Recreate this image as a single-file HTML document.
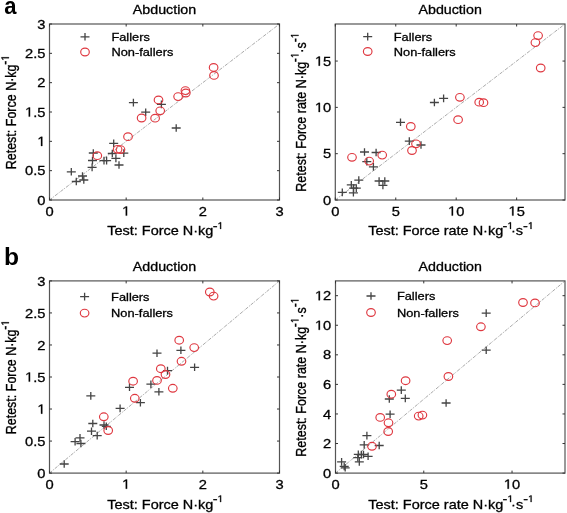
<!DOCTYPE html>
<html><head><meta charset="utf-8"><style>
html,body{margin:0;padding:0;background:#fff;}
svg{display:block;will-change:transform;font-family:"Liberation Sans", sans-serif;}
text{stroke:#000;stroke-width:0.3px;}
</style></head><body>
<svg width="567" height="513" viewBox="0 0 567 513">
<rect width="567" height="513" fill="#fff"/>
<g stroke="#8c8c8c" stroke-width="0.75" stroke-dasharray="3.5 1.2 1 1.2"><line x1="49.5" y1="200" x2="279.5" y2="24"/><line x1="335.3" y1="200" x2="565.0" y2="24"/><line x1="49.5" y1="473.1" x2="279.5" y2="280.9"/><line x1="335.5" y1="473.1" x2="565.0" y2="280.9"/></g>
<g stroke="#444" stroke-width="1.3" fill="none"><path d="M66.80 171.80H75.80M71.30 168.00V175.60"/><path d="M78.00 176.00H87.00M82.50 172.20V179.80"/><path d="M79.30 180.00H88.30M83.80 176.20V183.80"/><path d="M71.80 181.50H80.80M76.30 177.70V185.30"/><path d="M87.60 167.40H96.60M92.10 163.60V171.20"/><path d="M88.00 160.50H97.00M92.50 156.70V164.30"/><path d="M88.80 153.00H97.80M93.30 149.20V156.80"/><path d="M99.50 160.60H108.50M104.00 156.80V164.40"/><path d="M102.10 160.60H111.10M106.60 156.80V164.40"/><path d="M109.20 143.40H118.20M113.70 139.60V147.20"/><path d="M107.80 153.50H116.80M112.30 149.70V157.30"/><path d="M111.40 158.40H120.40M115.90 154.60V162.20"/><path d="M114.50 165.00H123.50M119.00 161.20V168.80"/><path d="M119.30 153.10H128.30M123.80 149.30V156.90"/><path d="M128.90 102.60H137.90M133.40 98.80V106.40"/><path d="M141.20 112.20H150.20M145.70 108.40V116.00"/><path d="M156.90 104.40H165.90M161.40 100.60V108.20"/><path d="M171.70 128.00H180.70M176.20 124.20V131.80"/><path d="M337.80 192.40H346.80M342.30 188.60V196.20"/><path d="M346.80 184.90H355.80M351.30 181.10V188.70"/><path d="M351.80 188.10H360.80M356.30 184.30V191.90"/><path d="M348.90 192.80H357.90M353.40 189.00V196.60"/><path d="M349.10 188.10H358.10M353.60 184.30V191.90"/><path d="M354.30 180.10H363.30M358.80 176.30V183.90"/><path d="M360.00 152.00H369.00M364.50 148.20V155.80"/><path d="M371.60 152.50H380.60M376.10 148.70V156.30"/><path d="M362.30 161.70H371.30M366.80 157.90V165.50"/><path d="M368.90 166.90H377.90M373.40 163.10V170.70"/><path d="M374.60 181.00H383.60M379.10 177.20V184.80"/><path d="M380.30 181.00H389.30M384.80 177.20V184.80"/><path d="M378.40 185.40H387.40M382.90 181.60V189.20"/><path d="M396.00 122.30H405.00M400.50 118.50V126.10"/><path d="M404.80 141.10H413.80M409.30 137.30V144.90"/><path d="M416.50 145.00H425.50M421.00 141.20V148.80"/><path d="M429.90 102.50H438.90M434.40 98.70V106.30"/><path d="M439.10 98.40H448.10M443.60 94.60V102.20"/><path d="M59.70 464.00H68.70M64.20 460.20V467.80"/><path d="M70.60 441.70H79.60M75.10 437.90V445.50"/><path d="M75.50 437.80H84.50M80.00 434.00V441.60"/><path d="M76.40 443.50H85.40M80.90 439.70V447.30"/><path d="M88.30 423.50H97.30M92.80 419.70V427.30"/><path d="M87.00 431.20H96.00M91.50 427.40V435.00"/><path d="M92.70 435.60H101.70M97.20 431.80V439.40"/><path d="M99.50 425.00H108.50M104.00 421.20V428.80"/><path d="M101.80 426.30H110.80M106.30 422.50V430.10"/><path d="M86.30 395.90H95.30M90.80 392.10V399.70"/><path d="M115.60 408.40H124.60M120.10 404.60V412.20"/><path d="M125.00 387.30H134.00M129.50 383.50V391.10"/><path d="M135.90 402.70H144.90M140.40 398.90V406.50"/><path d="M146.40 384.20H155.40M150.90 380.40V388.00"/><path d="M154.40 391.80H163.40M158.90 388.00V395.60"/><path d="M152.50 353.20H161.50M157.00 349.40V357.00"/><path d="M163.00 370.60H172.00M167.50 366.80V374.40"/><path d="M176.40 350.30H185.40M180.90 346.50V354.10"/><path d="M190.10 367.30H199.10M194.60 363.50V371.10"/><path d="M337.10 461.90H346.10M341.60 458.10V465.70"/><path d="M339.70 466.40H348.70M344.20 462.60V470.20"/><path d="M340.70 467.80H349.70M345.20 464.00V471.60"/><path d="M353.80 454.30H362.80M358.30 450.50V458.10"/><path d="M356.90 454.60H365.90M361.40 450.80V458.40"/><path d="M353.30 457.70H362.30M357.80 453.90V461.50"/><path d="M359.00 454.50H368.00M363.50 450.70V458.30"/><path d="M363.60 456.30H372.60M368.10 452.50V460.10"/><path d="M354.80 461.90H363.80M359.30 458.10V465.70"/><path d="M362.40 435.60H371.40M366.90 431.80V439.40"/><path d="M359.70 444.90H368.70M364.20 441.10V448.70"/><path d="M374.70 445.50H383.70M379.20 441.70V449.30"/><path d="M384.80 399.00H393.80M389.30 395.20V402.80"/><path d="M385.60 414.20H394.60M390.10 410.40V418.00"/><path d="M396.80 390.10H405.80M401.30 386.30V393.90"/><path d="M400.80 398.40H409.80M405.30 394.60V402.20"/><path d="M441.60 403.00H450.60M446.10 399.20V406.80"/><path d="M481.70 350.20H490.70M486.20 346.40V354.00"/><path d="M481.70 313.10H490.70M486.20 309.30V316.90"/></g>
<g stroke="#df3840" stroke-width="1.15" fill="none"><ellipse cx="97.30" cy="155.70" rx="4.3" ry="3.85"/><ellipse cx="117.60" cy="149.30" rx="4.3" ry="3.85"/><ellipse cx="120.50" cy="149.60" rx="4.3" ry="3.85"/><ellipse cx="128.00" cy="136.70" rx="4.3" ry="3.85"/><ellipse cx="141.60" cy="118.00" rx="4.3" ry="3.85"/><ellipse cx="155.10" cy="118.20" rx="4.3" ry="3.85"/><ellipse cx="160.20" cy="110.80" rx="4.3" ry="3.85"/><ellipse cx="158.50" cy="99.90" rx="4.3" ry="3.85"/><ellipse cx="178.10" cy="96.60" rx="4.3" ry="3.85"/><ellipse cx="185.40" cy="90.60" rx="4.3" ry="3.85"/><ellipse cx="185.80" cy="93.00" rx="4.3" ry="3.85"/><ellipse cx="213.60" cy="67.40" rx="4.3" ry="3.85"/><ellipse cx="214.00" cy="75.40" rx="4.3" ry="3.85"/><ellipse cx="352.00" cy="157.30" rx="4.3" ry="3.85"/><ellipse cx="369.20" cy="161.10" rx="4.3" ry="3.85"/><ellipse cx="382.20" cy="155.10" rx="4.3" ry="3.85"/><ellipse cx="410.80" cy="126.50" rx="4.3" ry="3.85"/><ellipse cx="416.00" cy="143.80" rx="4.3" ry="3.85"/><ellipse cx="412.00" cy="150.50" rx="4.3" ry="3.85"/><ellipse cx="459.90" cy="97.30" rx="4.3" ry="3.85"/><ellipse cx="458.10" cy="119.70" rx="4.3" ry="3.85"/><ellipse cx="479.20" cy="102.20" rx="4.3" ry="3.85"/><ellipse cx="483.50" cy="102.70" rx="4.3" ry="3.85"/><ellipse cx="538.10" cy="35.60" rx="4.3" ry="3.85"/><ellipse cx="535.40" cy="42.60" rx="4.3" ry="3.85"/><ellipse cx="540.70" cy="68.00" rx="4.3" ry="3.85"/><ellipse cx="103.80" cy="416.80" rx="4.3" ry="3.85"/><ellipse cx="108.20" cy="430.50" rx="4.3" ry="3.85"/><ellipse cx="133.10" cy="381.20" rx="4.3" ry="3.85"/><ellipse cx="134.80" cy="398.30" rx="4.3" ry="3.85"/><ellipse cx="157.00" cy="380.40" rx="4.3" ry="3.85"/><ellipse cx="160.80" cy="368.70" rx="4.3" ry="3.85"/><ellipse cx="165.50" cy="374.50" rx="4.3" ry="3.85"/><ellipse cx="172.80" cy="388.30" rx="4.3" ry="3.85"/><ellipse cx="181.50" cy="361.30" rx="4.3" ry="3.85"/><ellipse cx="179.20" cy="340.20" rx="4.3" ry="3.85"/><ellipse cx="194.20" cy="347.60" rx="4.3" ry="3.85"/><ellipse cx="209.80" cy="292.00" rx="4.3" ry="3.85"/><ellipse cx="213.60" cy="296.10" rx="4.3" ry="3.85"/><ellipse cx="372.00" cy="446.30" rx="4.3" ry="3.85"/><ellipse cx="380.20" cy="417.40" rx="4.3" ry="3.85"/><ellipse cx="388.50" cy="422.80" rx="4.3" ry="3.85"/><ellipse cx="388.20" cy="431.50" rx="4.3" ry="3.85"/><ellipse cx="391.30" cy="394.20" rx="4.3" ry="3.85"/><ellipse cx="405.60" cy="380.70" rx="4.3" ry="3.85"/><ellipse cx="418.70" cy="416.10" rx="4.3" ry="3.85"/><ellipse cx="422.40" cy="415.10" rx="4.3" ry="3.85"/><ellipse cx="447.20" cy="340.60" rx="4.3" ry="3.85"/><ellipse cx="448.40" cy="376.50" rx="4.3" ry="3.85"/><ellipse cx="480.90" cy="326.80" rx="4.3" ry="3.85"/><ellipse cx="523.00" cy="302.50" rx="4.3" ry="3.85"/><ellipse cx="535.00" cy="302.90" rx="4.3" ry="3.85"/></g>
<rect x="49.5" y="24" width="230.00" height="176.00" fill="none" stroke="#555" stroke-width="1.2"/>
<text transform="translate(49.50,215.60) scale(1.11,1)" font-size="13.26" text-anchor="middle">0</text>
<text transform="translate(126.17,215.60) scale(1.11,1)" font-size="13.26" text-anchor="middle"> </text>
<text transform="translate(202.83,215.60) scale(1.11,1)" font-size="13.26" text-anchor="middle">2</text>
<text transform="translate(279.50,215.60) scale(1.11,1)" font-size="13.26" text-anchor="middle">3</text>
<text transform="translate(45.50,204.60) scale(1.11,1)" font-size="13.26" text-anchor="end">0</text>
<text transform="translate(45.50,175.27) scale(1.11,1)" font-size="13.26" text-anchor="end">0.5</text>
<text transform="translate(45.50,145.93) scale(1.11,1)" font-size="13.26" text-anchor="end"> </text>
<text transform="translate(45.50,116.60) scale(1.11,1)" font-size="13.26" text-anchor="end"> .5</text>
<text transform="translate(45.50,87.27) scale(1.11,1)" font-size="13.26" text-anchor="end">2</text>
<text transform="translate(45.50,57.93) scale(1.11,1)" font-size="13.26" text-anchor="end">2.5</text>
<text transform="translate(45.50,28.60) scale(1.11,1)" font-size="13.26" text-anchor="end">3</text>
<path d="M49.50 200V197.5M49.50 24V26.5M126.17 200V197.5M126.17 24V26.5M202.83 200V197.5M202.83 24V26.5M279.50 200V197.5M279.50 24V26.5M49.5 200.00H52.0M279.5 200.00H277.0M49.5 170.67H52.0M279.5 170.67H277.0M49.5 141.33H52.0M279.5 141.33H277.0M49.5 112.00H52.0M279.5 112.00H277.0M49.5 82.67H52.0M279.5 82.67H277.0M49.5 53.33H52.0M279.5 53.33H277.0M49.5 24.00H52.0M279.5 24.00H277.0" stroke="#333" stroke-width="1"/>
<text transform="translate(164.50,13.60) scale(1.11,1)" font-size="12.85" text-anchor="middle">Abduction</text>
<text transform="translate(165.30,235.40) scale(1.11,1)" font-size="13.05" text-anchor="middle">Test: Force N·kg<tspan dy="-5.6" font-size="  .4" dx="-0.6">-</tspan><tspan dy="-0.9" font-size="9.5" dx="-0. "> </tspan></text>
<text transform="translate(16.40,112.30) scale(1.15,1) rotate(-90)" font-size="12.5" text-anchor="middle">Retest: Force N·kg<tspan dy="-5.6" font-size=" 0" dx="-0.3">-</tspan><tspan dy="-0.9" font-size="9.5" dx="0. "> </tspan></text>
<g stroke="#444" stroke-width="1.3" fill="none"><path d="M80.50 36.80H89.50M85.00 33.00V40.60"/></g>
<g stroke="#df3840" stroke-width="1.15" fill="none"><ellipse cx="85.00" cy="52.00" rx="4.3" ry="3.85"/></g>
<text transform="translate(111.40,40.80) scale(1.11,1)" font-size="11.55">Fallers</text>
<text transform="translate(111.40,56.00) scale(1.11,1)" font-size="11.55">Non-fallers</text>
<rect x="335.3" y="24" width="229.70" height="176.00" fill="none" stroke="#555" stroke-width="1.2"/>
<text transform="translate(335.30,215.60) scale(1.11,1)" font-size="13.26" text-anchor="middle">0</text>
<text transform="translate(395.75,215.60) scale(1.11,1)" font-size="13.26" text-anchor="middle">5</text>
<text transform="translate(456.19,215.60) scale(1.11,1)" font-size="13.26" text-anchor="middle"> 0</text>
<text transform="translate(516.64,215.60) scale(1.11,1)" font-size="13.26" text-anchor="middle"> 5</text>
<text transform="translate(331.30,204.60) scale(1.11,1)" font-size="13.26" text-anchor="end">0</text>
<text transform="translate(331.30,158.28) scale(1.11,1)" font-size="13.26" text-anchor="end">5</text>
<text transform="translate(331.30,111.97) scale(1.11,1)" font-size="13.26" text-anchor="end"> 0</text>
<text transform="translate(331.30,65.65) scale(1.11,1)" font-size="13.26" text-anchor="end"> 5</text>
<path d="M335.30 200V197.5M335.30 24V26.5M395.75 200V197.5M395.75 24V26.5M456.19 200V197.5M456.19 24V26.5M516.64 200V197.5M516.64 24V26.5M335.3 200.00H337.8M565.0 200.00H562.5M335.3 153.68H337.8M565.0 153.68H562.5M335.3 107.37H337.8M565.0 107.37H562.5M335.3 61.05H337.8M565.0 61.05H562.5" stroke="#333" stroke-width="1"/>
<text transform="translate(450.15,13.60) scale(1.11,1)" font-size="12.85" text-anchor="middle">Abduction</text>
<text transform="translate(450.95,235.40) scale(1.11,1)" font-size="13.05" text-anchor="middle">Test: Force rate N·kg<tspan dy="-5.6" font-size="  .4" dx="-0.6">-</tspan><tspan dy="-0.9" font-size="9.5" dx="-0. "> </tspan><tspan dy="6.5" dx="-2.0">·s</tspan><tspan dy="-5.6" font-size="  .4" dx="- .2">-</tspan><tspan dy="-0.9" font-size="9.5" dx="-0. "> </tspan></text>
<text transform="translate(306.00,112.30) scale(1.15,1) rotate(-90)" font-size="12.5" text-anchor="middle">Retest: Force rate N·kg<tspan dy="-5.6" font-size=" 0" dx="-0.3">-</tspan><tspan dy="-0.9" font-size="9.5" dx="0. "> </tspan><tspan dy="6.5" dx="0">·s</tspan><tspan dy="-5.6" font-size=" 0" dx="- .2">-</tspan><tspan dy="-0.9" font-size="9.5" dx="0. "> </tspan></text>
<g stroke="#444" stroke-width="1.3" fill="none"><path d="M363.20 36.60H372.20M367.70 32.80V40.40"/></g>
<g stroke="#df3840" stroke-width="1.15" fill="none"><ellipse cx="367.70" cy="51.50" rx="4.3" ry="3.85"/></g>
<text transform="translate(393.80,40.60) scale(1.11,1)" font-size="11.55">Fallers</text>
<text transform="translate(393.80,55.50) scale(1.11,1)" font-size="11.55">Non-fallers</text>
<rect x="49.5" y="280.9" width="230.00" height="192.20" fill="none" stroke="#555" stroke-width="1.2"/>
<text transform="translate(49.50,488.70) scale(1.11,1)" font-size="13.26" text-anchor="middle">0</text>
<text transform="translate(126.17,488.70) scale(1.11,1)" font-size="13.26" text-anchor="middle"> </text>
<text transform="translate(202.83,488.70) scale(1.11,1)" font-size="13.26" text-anchor="middle">2</text>
<text transform="translate(279.50,488.70) scale(1.11,1)" font-size="13.26" text-anchor="middle">3</text>
<text transform="translate(45.50,477.70) scale(1.11,1)" font-size="13.26" text-anchor="end">0</text>
<text transform="translate(45.50,445.67) scale(1.11,1)" font-size="13.26" text-anchor="end">0.5</text>
<text transform="translate(45.50,413.63) scale(1.11,1)" font-size="13.26" text-anchor="end"> </text>
<text transform="translate(45.50,381.60) scale(1.11,1)" font-size="13.26" text-anchor="end"> .5</text>
<text transform="translate(45.50,349.57) scale(1.11,1)" font-size="13.26" text-anchor="end">2</text>
<text transform="translate(45.50,317.53) scale(1.11,1)" font-size="13.26" text-anchor="end">2.5</text>
<text transform="translate(45.50,285.50) scale(1.11,1)" font-size="13.26" text-anchor="end">3</text>
<path d="M49.50 473.1V470.6M49.50 280.9V283.4M126.17 473.1V470.6M126.17 280.9V283.4M202.83 473.1V470.6M202.83 280.9V283.4M279.50 473.1V470.6M279.50 280.9V283.4M49.5 473.10H52.0M279.5 473.10H277.0M49.5 441.07H52.0M279.5 441.07H277.0M49.5 409.03H52.0M279.5 409.03H277.0M49.5 377.00H52.0M279.5 377.00H277.0M49.5 344.97H52.0M279.5 344.97H277.0M49.5 312.93H52.0M279.5 312.93H277.0M49.5 280.90H52.0M279.5 280.90H277.0" stroke="#333" stroke-width="1"/>
<text transform="translate(164.50,270.50) scale(1.11,1)" font-size="12.85" text-anchor="middle">Adduction</text>
<text transform="translate(165.30,508.50) scale(1.11,1)" font-size="13.05" text-anchor="middle">Test: Force N·kg<tspan dy="-5.6" font-size="  .4" dx="-0.6">-</tspan><tspan dy="-0.9" font-size="9.5" dx="-0. "> </tspan></text>
<text transform="translate(16.40,377.30) scale(1.15,1) rotate(-90)" font-size="12.5" text-anchor="middle">Retest: Force N·kg<tspan dy="-5.6" font-size=" 0" dx="-0.3">-</tspan><tspan dy="-0.9" font-size="9.5" dx="0. "> </tspan></text>
<g stroke="#444" stroke-width="1.3" fill="none"><path d="M80.10 296.60H89.10M84.60 292.80V300.40"/></g>
<g stroke="#df3840" stroke-width="1.15" fill="none"><ellipse cx="84.60" cy="313.10" rx="4.3" ry="3.85"/></g>
<text transform="translate(111.10,300.60) scale(1.11,1)" font-size="11.55">Fallers</text>
<text transform="translate(111.10,317.10) scale(1.11,1)" font-size="11.55">Non-fallers</text>
<rect x="335.5" y="280.9" width="229.50" height="192.20" fill="none" stroke="#555" stroke-width="1.2"/>
<text transform="translate(335.50,488.70) scale(1.11,1)" font-size="13.26" text-anchor="middle">0</text>
<text transform="translate(423.77,488.70) scale(1.11,1)" font-size="13.26" text-anchor="middle">5</text>
<text transform="translate(512.04,488.70) scale(1.11,1)" font-size="13.26" text-anchor="middle"> 0</text>
<text transform="translate(331.30,477.70) scale(1.11,1)" font-size="13.26" text-anchor="end">0</text>
<text transform="translate(331.30,448.13) scale(1.11,1)" font-size="13.26" text-anchor="end">2</text>
<text transform="translate(331.30,418.56) scale(1.11,1)" font-size="13.26" text-anchor="end">4</text>
<text transform="translate(331.30,388.99) scale(1.11,1)" font-size="13.26" text-anchor="end">6</text>
<text transform="translate(331.30,359.42) scale(1.11,1)" font-size="13.26" text-anchor="end">8</text>
<text transform="translate(331.30,329.85) scale(1.11,1)" font-size="13.26" text-anchor="end"> 0</text>
<text transform="translate(331.30,300.28) scale(1.11,1)" font-size="13.26" text-anchor="end"> 2</text>
<path d="M335.50 473.1V470.6M335.50 280.9V283.4M423.77 473.1V470.6M423.77 280.9V283.4M512.04 473.1V470.6M512.04 280.9V283.4M335.5 473.10H338.0M565.0 473.10H562.5M335.5 443.53H338.0M565.0 443.53H562.5M335.5 413.96H338.0M565.0 413.96H562.5M335.5 384.39H338.0M565.0 384.39H562.5M335.5 354.82H338.0M565.0 354.82H562.5M335.5 325.25H338.0M565.0 325.25H562.5M335.5 295.68H338.0M565.0 295.68H562.5" stroke="#333" stroke-width="1"/>
<text transform="translate(450.25,270.50) scale(1.11,1)" font-size="12.85" text-anchor="middle">Adduction</text>
<text transform="translate(451.05,508.50) scale(1.11,1)" font-size="13.05" text-anchor="middle">Test: Force rate N·kg<tspan dy="-5.6" font-size="  .4" dx="-0.6">-</tspan><tspan dy="-0.9" font-size="9.5" dx="-0. "> </tspan><tspan dy="6.5" dx="-2.0">·s</tspan><tspan dy="-5.6" font-size="  .4" dx="- .2">-</tspan><tspan dy="-0.9" font-size="9.5" dx="-0. "> </tspan></text>
<text transform="translate(306.00,377.30) scale(1.15,1) rotate(-90)" font-size="12.5" text-anchor="middle">Retest: Force rate N·kg<tspan dy="-5.6" font-size=" 0" dx="-0.3">-</tspan><tspan dy="-0.9" font-size="9.5" dx="0. "> </tspan><tspan dy="6.5" dx="0">·s</tspan><tspan dy="-5.6" font-size=" 0" dx="- .2">-</tspan><tspan dy="-0.9" font-size="9.5" dx="0. "> </tspan></text>
<g stroke="#444" stroke-width="1.3" fill="none"><path d="M366.50 296.00H375.50M371.00 292.20V299.80"/></g>
<g stroke="#df3840" stroke-width="1.15" fill="none"><ellipse cx="371.00" cy="312.50" rx="4.3" ry="3.85"/></g>
<text transform="translate(396.90,300.00) scale(1.11,1)" font-size="11.55">Fallers</text>
<text transform="translate(396.90,316.50) scale(1.11,1)" font-size="11.55">Non-fallers</text>
<text transform="translate(4.35,13.60) scale(0.92,1)" font-size="24" font-weight="bold" style="stroke-width:0">a</text>
<text transform="translate(4.10,264.70) scale(1.07,1)" font-size="23" font-weight="bold" style="stroke-width:0">b</text>
<path transform="matrix(0.00719 0.00000 0.00000 -0.00647 122.074 215.600)" d="M515 0L515 1237L197 1010L197 1180L530 1409L696 1409L696 0Z" fill="#000" stroke="#000" stroke-width="46.3"/>
<path transform="matrix(0.00719 0.00000 0.00000 -0.00647 37.308 145.930)" d="M515 0L515 1237L197 1010L197 1180L530 1409L696 1409L696 0Z" fill="#000" stroke="#000" stroke-width="46.3"/>
<path transform="matrix(0.00719 0.00000 0.00000 -0.00647 25.044 116.600)" d="M515 0L515 1237L197 1010L197 1180L530 1409L696 1409L696 0Z" fill="#000" stroke="#000" stroke-width="46.3"/>
<path transform="matrix(0.00515 0.00000 0.00000 -0.00464 217.502 228.900)" d="M515 0L515 1237L197 1010L197 1180L530 1409L696 1409L696 0Z" fill="#000" stroke="#000" stroke-width="64.7"/>
<path transform="matrix(0.00000 -0.00464 -0.00533 0.00000 8.925 60.556)" d="M515 0L515 1237L197 1010L197 1180L530 1409L696 1409L696 0Z" fill="#000" stroke="#000" stroke-width="64.7"/>
<path transform="matrix(0.00719 0.00000 0.00000 -0.00647 448.006 215.600)" d="M515 0L515 1237L197 1010L197 1180L530 1409L696 1409L696 0Z" fill="#000" stroke="#000" stroke-width="46.3"/>
<path transform="matrix(0.00719 0.00000 0.00000 -0.00647 508.456 215.600)" d="M515 0L515 1237L197 1010L197 1180L530 1409L696 1409L696 0Z" fill="#000" stroke="#000" stroke-width="46.3"/>
<path transform="matrix(0.00719 0.00000 0.00000 -0.00647 314.932 111.970)" d="M515 0L515 1237L197 1010L197 1180L530 1409L696 1409L696 0Z" fill="#000" stroke="#000" stroke-width="46.3"/>
<path transform="matrix(0.00719 0.00000 0.00000 -0.00647 314.932 65.650)" d="M515 0L515 1237L197 1010L197 1180L530 1409L696 1409L696 0Z" fill="#000" stroke="#000" stroke-width="46.3"/>
<path transform="matrix(0.00515 0.00000 0.00000 -0.00464 507.357 228.900)" d="M515 0L515 1237L197 1010L197 1180L530 1409L696 1409L696 0Z" fill="#000" stroke="#000" stroke-width="64.7"/>
<path transform="matrix(0.00515 0.00000 0.00000 -0.00464 527.875 228.900)" d="M515 0L515 1237L197 1010L197 1180L530 1409L696 1409L696 0Z" fill="#000" stroke="#000" stroke-width="64.7"/>
<path transform="matrix(0.00000 -0.00464 -0.00533 0.00000 298.525 57.997)" d="M515 0L515 1237L197 1010L197 1180L530 1409L696 1409L696 0Z" fill="#000" stroke="#000" stroke-width="64.7"/>
<path transform="matrix(0.00000 -0.00464 -0.00533 0.00000 298.525 38.118)" d="M515 0L515 1237L197 1010L197 1180L530 1409L696 1409L696 0Z" fill="#000" stroke="#000" stroke-width="64.7"/>
<path transform="matrix(0.00719 0.00000 0.00000 -0.00647 122.074 488.700)" d="M515 0L515 1237L197 1010L197 1180L530 1409L696 1409L696 0Z" fill="#000" stroke="#000" stroke-width="46.3"/>
<path transform="matrix(0.00719 0.00000 0.00000 -0.00647 37.308 413.630)" d="M515 0L515 1237L197 1010L197 1180L530 1409L696 1409L696 0Z" fill="#000" stroke="#000" stroke-width="46.3"/>
<path transform="matrix(0.00719 0.00000 0.00000 -0.00647 25.044 381.600)" d="M515 0L515 1237L197 1010L197 1180L530 1409L696 1409L696 0Z" fill="#000" stroke="#000" stroke-width="46.3"/>
<path transform="matrix(0.00515 0.00000 0.00000 -0.00464 217.502 502.000)" d="M515 0L515 1237L197 1010L197 1180L530 1409L696 1409L696 0Z" fill="#000" stroke="#000" stroke-width="64.7"/>
<path transform="matrix(0.00000 -0.00464 -0.00533 0.00000 8.925 325.556)" d="M515 0L515 1237L197 1010L197 1180L530 1409L696 1409L696 0Z" fill="#000" stroke="#000" stroke-width="64.7"/>
<path transform="matrix(0.00719 0.00000 0.00000 -0.00647 503.856 488.700)" d="M515 0L515 1237L197 1010L197 1180L530 1409L696 1409L696 0Z" fill="#000" stroke="#000" stroke-width="46.3"/>
<path transform="matrix(0.00719 0.00000 0.00000 -0.00647 314.932 329.850)" d="M515 0L515 1237L197 1010L197 1180L530 1409L696 1409L696 0Z" fill="#000" stroke="#000" stroke-width="46.3"/>
<path transform="matrix(0.00719 0.00000 0.00000 -0.00647 314.932 300.280)" d="M515 0L515 1237L197 1010L197 1180L530 1409L696 1409L696 0Z" fill="#000" stroke="#000" stroke-width="46.3"/>
<path transform="matrix(0.00515 0.00000 0.00000 -0.00464 507.457 502.000)" d="M515 0L515 1237L197 1010L197 1180L530 1409L696 1409L696 0Z" fill="#000" stroke="#000" stroke-width="64.7"/>
<path transform="matrix(0.00515 0.00000 0.00000 -0.00464 527.975 502.000)" d="M515 0L515 1237L197 1010L197 1180L530 1409L696 1409L696 0Z" fill="#000" stroke="#000" stroke-width="64.7"/>
<path transform="matrix(0.00000 -0.00464 -0.00533 0.00000 298.525 322.997)" d="M515 0L515 1237L197 1010L197 1180L530 1409L696 1409L696 0Z" fill="#000" stroke="#000" stroke-width="64.7"/>
<path transform="matrix(0.00000 -0.00464 -0.00533 0.00000 298.525 303.118)" d="M515 0L515 1237L197 1010L197 1180L530 1409L696 1409L696 0Z" fill="#000" stroke="#000" stroke-width="64.7"/>
</svg>
</body></html>
